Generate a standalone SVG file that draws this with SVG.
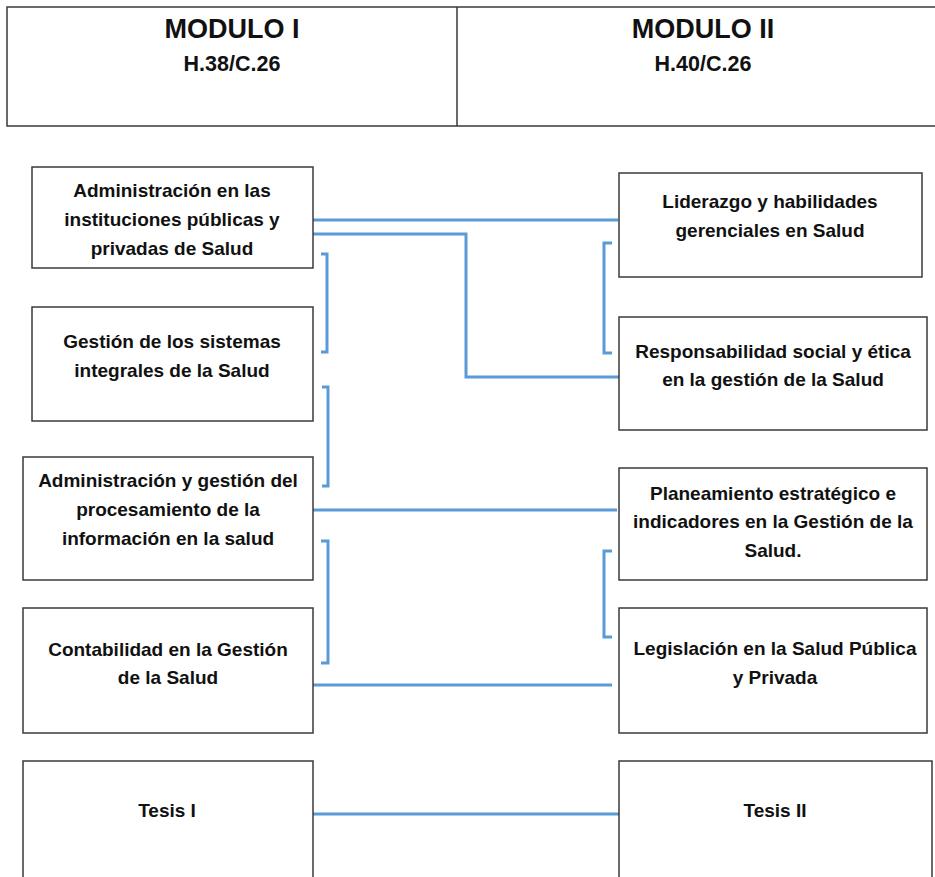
<svg xmlns="http://www.w3.org/2000/svg" width="935" height="877" viewBox="0 0 935 877">
<style>
.box{fill:#fff;stroke:#3a3a3a;stroke-width:1.5}
.hd{fill:none;stroke:#3a3a3a;stroke-width:1.5}
.t{font-family:"Liberation Sans",Arial,sans-serif;font-weight:bold;font-size:19px;fill:#111;text-anchor:middle}
.h1{font-family:"Liberation Sans",Arial,sans-serif;font-weight:bold;font-size:27px;fill:#111;text-anchor:middle}
.h2{font-family:"Liberation Sans",Arial,sans-serif;font-weight:bold;font-size:21.5px;fill:#111;text-anchor:middle}
.c{fill:none;stroke:#5B9BD5;stroke-width:3}
</style>
<rect width="935" height="877" fill="#fff"/>
<g id="header">
<path class="hd" d="M937,7 H7 V126 H937 M457,7 V126"/>
<text class="h1" x="232" y="38">MODULO I</text>
<text class="h2" x="232" y="71">H.38/C.26</text>
<text class="h1" x="703" y="38">MODULO II</text>
<text class="h2" x="703" y="71">H.40/C.26</text>
</g>
<g id="connectors">
<path class="c" d="M311,220 H618"/>
<path class="c" d="M313,234 H466 V377 H619"/>
<path class="c" d="M321,254 H327 V352 H321"/>
<path class="c" d="M322,387 H328 V486 H322"/>
<path class="c" d="M311,510 H617"/>
<path class="c" d="M321,541 H328 V663 H321"/>
<path class="c" d="M313,685 H612"/>
<path class="c" d="M612,243 H604 V353 H612"/>
<path class="c" d="M612,551 H604 V637 H612"/>
<path class="c" d="M313,814 H619"/>
</g>
<g id="n-a1">
<rect class="box" x="32" y="167" width="281" height="101"/>
<text class="t" x="172" y="197">Administración en las</text>
<text class="t" x="172" y="226">instituciones públicas y</text>
<text class="t" x="172" y="255">privadas de Salud</text>
</g>
<g id="n-a2">
<rect class="box" x="32" y="307" width="281" height="114"/>
<text class="t" x="172" y="348">Gestión de los sistemas</text>
<text class="t" x="172" y="377">integrales de la Salud</text>
</g>
<g id="n-a3">
<rect class="box" x="23" y="457" width="290" height="123"/>
<text class="t" x="168" y="487">Administración y gestión del</text>
<text class="t" x="168" y="516">procesamiento de la</text>
<text class="t" x="168" y="545">información en la salud</text>
</g>
<g id="n-a4">
<rect class="box" x="23" y="608" width="290" height="125"/>
<text class="t" x="168" y="656">Contabilidad en la Gestión</text>
<text class="t" x="168" y="684">de la Salud</text>
</g>
<g id="n-a5">
<rect class="box" x="23" y="761" width="290" height="130"/>
<text class="t" x="167" y="817">Tesis I</text>
</g>
<g id="n-b1">
<rect class="box" x="619" y="173" width="303" height="104"/>
<text class="t" x="770" y="208">Liderazgo y habilidades</text>
<text class="t" x="770" y="237">gerenciales en Salud</text>
</g>
<g id="n-b2">
<rect class="box" x="619" y="317" width="308" height="113"/>
<text class="t" x="773" y="358">Responsabilidad social y ética</text>
<text class="t" x="773" y="386">en la gestión de la Salud</text>
</g>
<g id="n-b3">
<rect class="box" x="619" y="468" width="308" height="112"/>
<text class="t" x="773" y="500">Planeamiento estratégico e</text>
<text class="t" x="773" y="528">indicadores en la Gestión de la</text>
<text class="t" x="773" y="557">Salud.</text>
</g>
<g id="n-b4">
<rect class="box" x="619" y="608" width="308" height="125"/>
<text class="t" x="775" y="655">Legislación en la Salud Pública</text>
<text class="t" x="775" y="684">y Privada</text>
</g>
<g id="n-b5">
<rect class="box" x="619" y="761" width="313" height="130"/>
<text class="t" x="775" y="817">Tesis II</text>
</g>
</svg>
